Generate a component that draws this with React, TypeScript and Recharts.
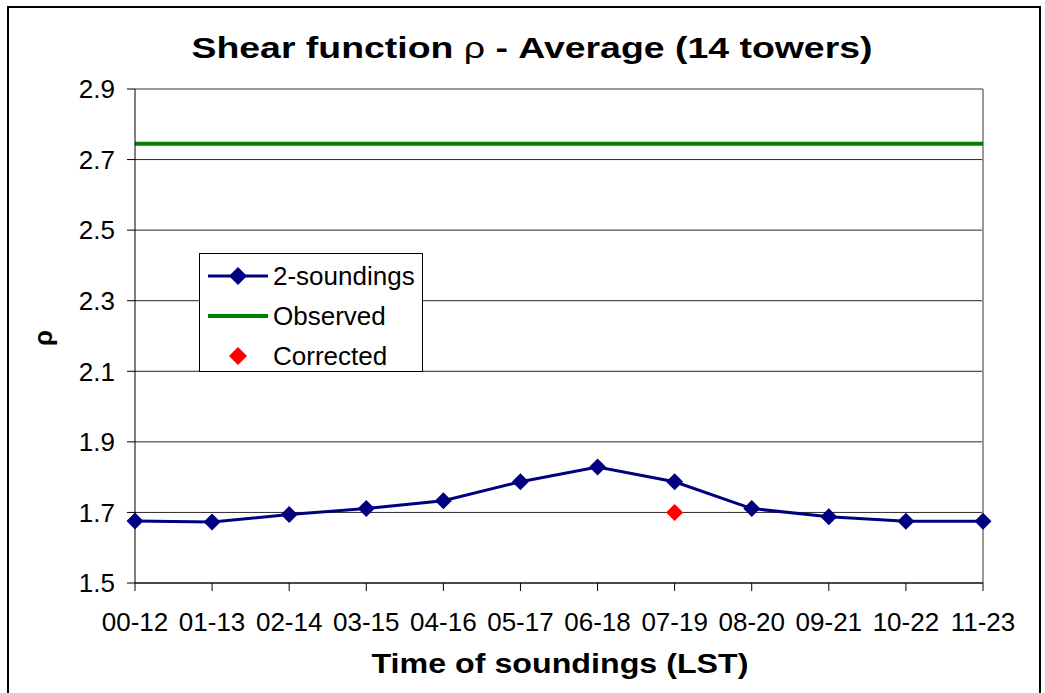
import React from "react";
import { LineChart, Line, XAxis, YAxis, CartesianGrid, ReferenceLine, Legend } from "recharts";

const categories = ["00-12", "01-13", "02-14", "03-15", "04-16", "05-17", "06-18", "07-19", "08-20", "09-21", "10-22", "11-23"];
const twoSoundings = [1.676, 1.673, 1.694, 1.711, 1.733, 1.787, 1.829, 1.787, 1.711, 1.688, 1.675, 1.675];
const observed = [2.745, 2.745, 2.745, 2.745, 2.745, 2.745, 2.745, 2.745, 2.745, 2.745, 2.745, 2.745];
const corrected: (number | null)[] = [null, null, null, null, null, null, null, 1.70, null, null, null, null];
const yTicks = [1.5, 1.7, 1.9, 2.1, 2.3, 2.5, 2.7, 2.9];

const data = categories.map((c, i) => ({
  cat: c,
  two: twoSoundings[i],
  obs: observed[i],
  cor: corrected[i],
}));

const FONT = '"Liberation Sans", Arial, sans-serif';
const NAVY = "#000080";
const GREEN = "#008000";
const RED = "#FF0000";

const makeDiamond = (color: string, h: number) => (props: any) => {
  const { cx, cy, value, index } = props;
  if (value == null || cx == null || cy == null || isNaN(cy)) return <g key={"d" + index} />;
  return (
    <polygon
      key={"d" + index}
      points={`${cx},${cy - h} ${cx + h},${cy} ${cx},${cy + h} ${cx - h},${cy}`}
      fill={color}
      stroke="none"
    />
  );
};

const legendItems = [
  { label: "2-soundings", kind: "lineDot", color: NAVY },
  { label: "Observed", kind: "line", color: GREEN },
  { label: "Corrected", kind: "dot", color: RED },
];

const LegendBox = () => (
  <div
    style={{
      width: 224,
      height: 119,
      border: "1px solid #000",
      background: "#fff",
      boxSizing: "border-box",
      position: "relative",
      fontFamily: FONT,
      fontSize: 26,
    }}
  >
    {legendItems.map((it, i) => (
      <div
        key={it.label}
        style={{ position: "absolute", left: 7, top: 2 + i * 40, height: 40, display: "flex", alignItems: "center" }}
      >
        <svg width={62} height={40} style={{ display: "block" }}>
          {it.kind !== "dot" && (
            <line x1={1} y1={20} x2={61} y2={20} stroke={it.color} strokeWidth={it.kind === "line" ? 4 : 3} />
          )}
          {it.kind !== "line" && (
            <polygon points={`31,11 40,20 31,29 22,20`} fill={it.color} />
          )}
        </svg>
        <span style={{ marginLeft: 4, color: "#000", whiteSpace: "nowrap" }}>{it.label}</span>
      </div>
    ))}
  </div>
);

export default function App() {
  return (
    <div style={{ position: "absolute", left: 0, top: 0, width: 1045, height: 693, background: "#fff", overflow: "hidden" }}>
      <LineChart
        width={1045}
        height={693}
        data={data}
        margin={{ top: 89, right: 62, bottom: 50, left: 0 }}
        style={{ fontFamily: FONT }}
      >
        <CartesianGrid vertical={false} stroke="#000" strokeOpacity={0.85} />
        <XAxis
          dataKey="cat"
          height={60}
          tickSize={8}
          tickMargin={22}
          interval={0}
          axisLine={{ stroke: "#000" }}
          tickLine={{ stroke: "#000" }}
          tick={{ fill: "#000", fontSize: 26, fontFamily: FONT }}
        />
        <YAxis
          width={135}
          domain={[1.5, 2.9]}
          ticks={yTicks}
          tickFormatter={(v: number) => v.toFixed(1)}
          tickSize={8}
          tickMargin={12}
          axisLine={{ stroke: "#000" }}
          tickLine={{ stroke: "#000" }}
          tick={{ fill: "#000", fontSize: 26, fontFamily: FONT }}
          allowDataOverflow
        />
        <ReferenceLine y={2.9} stroke="#9a9a9a" strokeWidth={1.5} />
        <ReferenceLine x="11-23" stroke="#9a9a9a" strokeWidth={2} />
        <Line
          dataKey="obs"
          stroke={GREEN}
          strokeWidth={4}
          dot={false}
          activeDot={false}
          isAnimationActive={false}
        />
        <Line
          dataKey="two"
          stroke={NAVY}
          strokeWidth={3}
          dot={makeDiamond(NAVY, 8.5)}
          activeDot={false}
          isAnimationActive={false}
        />
        <Line
          dataKey="cor"
          stroke="none"
          strokeWidth={0}
          dot={makeDiamond(RED, 8.5)}
          activeDot={false}
          connectNulls={false}
          isAnimationActive={false}
        />
        <Legend
          layout="vertical"
          align="center"
          verticalAlign="middle"
          content={() => <LegendBox />}
          wrapperStyle={{ left: 199, top: 253, width: 224, height: 119 }}
        />
      </LineChart>
      <svg
        width={1045}
        height={693}
        style={{ position: "absolute", left: 0, top: 0, pointerEvents: "none" }}
      >
        <rect x={8} y={7} width={1032} height={720} fill="none" stroke="#000" strokeWidth={2} />
        <text
          x={532}
          y={58}
          textAnchor="middle"
          fontFamily={FONT}
          fontWeight="bold"
          fontSize={29}
          textLength={681}
          lengthAdjust="spacingAndGlyphs"
          fill="#000"
        >
          Shear function <tspan fontWeight="normal">ρ</tspan> - Average (14 towers)
        </text>
        <text
          x={560}
          y={673}
          textAnchor="middle"
          fontFamily={FONT}
          fontWeight="bold"
          fontSize={28}
          textLength={377}
          lengthAdjust="spacingAndGlyphs"
          fill="#000"
        >
          Time of soundings (LST)
        </text>
        <text
          x={52}
          y={338}
          textAnchor="middle"
          fontFamily={FONT}
          fontWeight="bold"
          fontSize={26}
          transform="rotate(-90 52 338)"
          fill="#000"
        >
          ρ
        </text>
      </svg>
    </div>
  );
}
